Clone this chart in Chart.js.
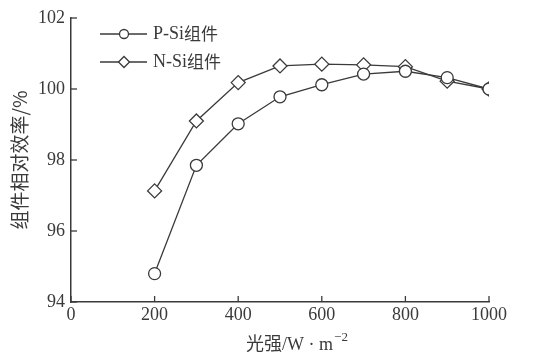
<!DOCTYPE html>
<html><head><meta charset="utf-8">
<script src="https://cdn.jsdelivr.net/npm/chart.js@4.4.1/dist/chart.umd.min.js"></script>
<style>html,body{margin:0;padding:0;background:#fff}#wrap{width:550px;height:356px}</style>
</head><body><div id="wrap"><canvas id="c" width="550" height="356"></canvas></div>
<script>
const lightIntensity = [200, 300, 400, 500, 600, 700, 800, 900, 1000];
const pSi = [94.8, 97.85, 99.02, 99.78, 100.12, 100.42, 100.5, 100.32, 100.0];
const nSi = [97.13, 99.1, 100.18, 100.65, 100.7, 100.68, 100.63, 100.22, 100.0];
const seriesNames = ['P-Si组件', 'N-Si组件'];
const xTicks = [0, 200, 400, 600, 800, 1000];
const yTicks = [94, 96, 98, 100, 102];
const xTitle = ['光强/W · m', '−2'];
const yTitle = '组件相对效率/%';

const ink = '#3a3a3a';
const serif = "'Liberation Serif','DejaVu Serif',serif";
const cjk = "'Noto Sans CJK SC'";

const decor = {
  id: 'decor',
  afterDraw(chart) {
    const ctx = chart.ctx, xs = chart.scales.x, ys = chart.scales.y;
    ctx.save();
    ctx.strokeStyle = ink; ctx.lineWidth = 1.3;
    xTicks.forEach(v => { const px = xs.getPixelForValue(v); ctx.beginPath(); ctx.moveTo(px, ys.bottom); ctx.lineTo(px, ys.bottom - 6); ctx.stroke(); });
    yTicks.forEach(v => { const py = ys.getPixelForValue(v); ctx.beginPath(); ctx.moveTo(xs.left, py); ctx.lineTo(xs.left + 6, py); ctx.stroke(); });
    // legend
    const items = [{style:'circle', y: 34}, {style:'rectRot', y: 62}];
    items.forEach((it, i) => {
      ctx.strokeStyle = ink; ctx.lineWidth = 1.3;
      ctx.beginPath(); ctx.moveTo(100, it.y); ctx.lineTo(147, it.y); ctx.stroke();
      ctx.fillStyle = '#fff';
      Chart.helpers.drawPoint(ctx, {pointStyle: it.style, radius: it.style === 'circle' ? 4.5 : 5.5, borderWidth: 1.3, rotation: 0}, 124, it.y);
      ctx.fillStyle = ink;
      const latin = seriesNames[i].replace('组件','');
      ctx.font = "18px " + serif;
      ctx.textBaseline = 'middle'; ctx.textAlign = 'left';
      ctx.fillText(latin, 153, it.y);
      const w = ctx.measureText(latin).width;
      ctx.font = "17px " + cjk;
      ctx.fillText('组件', 153 + w, it.y);
    });
    // x title
    ctx.fillStyle = ink;
    ctx.textBaseline = 'alphabetic'; ctx.textAlign = 'left';
    ctx.font = "18px " + serif + "," + cjk;
    const w1 = ctx.measureText(xTitle[0]).width;
    ctx.font = "13px " + serif;
    const w2 = ctx.measureText(xTitle[1]).width;
    const x0 = 297 - (w1 + w2 + 1) / 2;
    ctx.font = "18px " + serif + "," + cjk;
    ctx.fillText(xTitle[0], x0, 350);
    ctx.font = "13px " + serif;
    ctx.fillText(xTitle[1], x0 + w1 + 1, 341);
    // y title
    ctx.translate(20, 160);
    ctx.rotate(-Math.PI / 2);
    ctx.textAlign = 'center'; ctx.textBaseline = 'middle';
    ctx.font = "19px " + cjk;
    ctx.fillText(yTitle, 0, 0);
    ctx.restore();
  }
};

new Chart(document.getElementById('c'), {
  type: 'line',
  data: {
    datasets: [
      { label: seriesNames[0], data: lightIntensity.map((x, i) => ({x, y: pSi[i]})), borderColor: ink, borderWidth: 1.3, pointStyle: 'circle', pointRadius: 6, pointBackgroundColor: '#fff', pointBorderColor: ink, pointBorderWidth: 1.3 },
      { label: seriesNames[1], data: lightIntensity.map((x, i) => ({x, y: nSi[i]})), borderColor: ink, borderWidth: 1.3, pointStyle: 'rectRot', pointRadius: 7, pointBackgroundColor: '#fff', pointBorderColor: ink, pointBorderWidth: 1.3 }
    ]
  },
  options: {
    responsive: false, animation: false,
    layout: { padding: { left: 0, right: 61, top: 18, bottom: 0 } },
    plugins: { legend: { display: false }, tooltip: { enabled: false } },
    scales: {
      x: {
        type: 'linear', min: 0, max: 1000,
        afterBuildTicks: s => { s.ticks = xTicks.map(v => ({value: v})); },
        afterFit: s => { s.height = 54; },
        grid: { display: false, drawTicks: false },
        border: { display: true, color: ink, width: 1.5 },
        ticks: { color: ink, font: { family: serif, size: 18 }, padding: 2, maxRotation: 0, callback: v => String(v) },
        title: { display: false }
      },
      y: {
        min: 94, max: 102,
        afterBuildTicks: s => { s.ticks = yTicks.map(v => ({value: v})); },
        afterFit: s => { s.width = 71; },
        grid: { display: false, drawTicks: false },
        border: { display: true, color: ink, width: 1.5 },
        ticks: { color: ink, font: { family: serif, size: 18 }, padding: 6, callback: v => String(v) },
        title: { display: false }
      }
    }
  },
  plugins: [decor]
});
</script></body></html>
